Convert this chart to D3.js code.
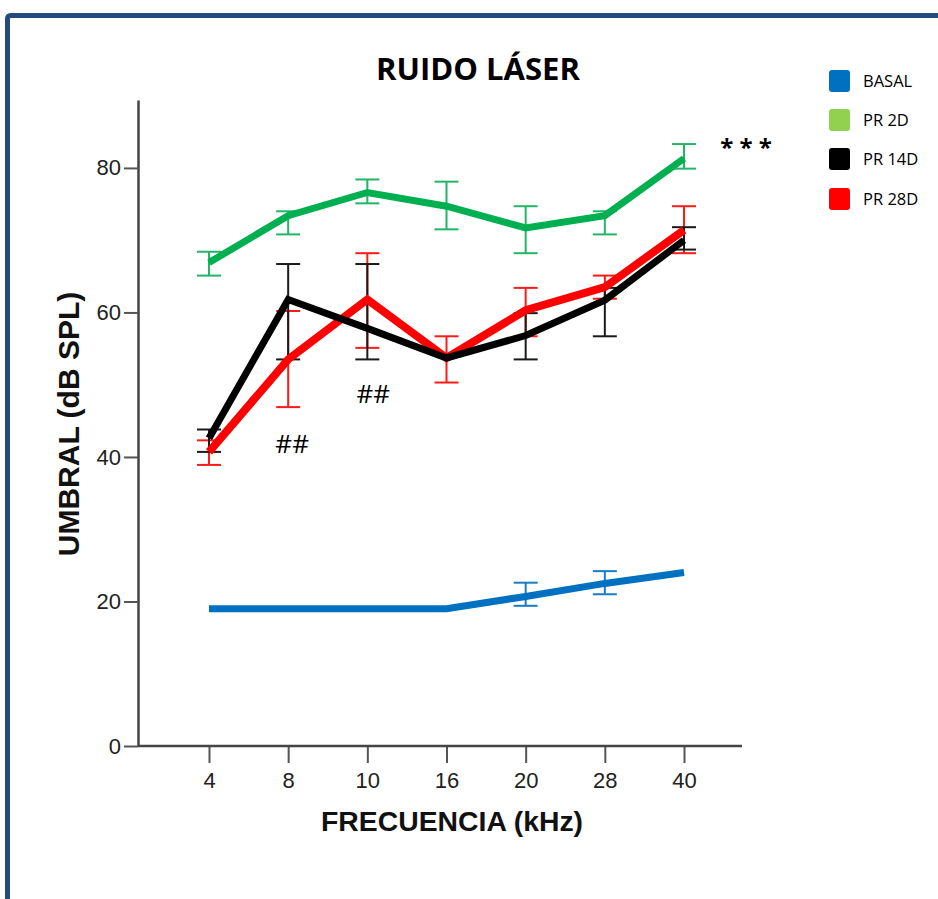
<!DOCTYPE html>
<html>
<head>
<meta charset="utf-8">
<script src="https://cdn.jsdelivr.net/npm/d3@7"></script>
<style>
  html, body { margin: 0; padding: 0; background: #fff; }
  svg { display: block; }
</style>
</head>
<body>
<script>
// Frequencies tested (kHz) and threshold tick values
const frequencies = ["4", "8", "10", "16", "20", "28", "40"];
const yTicks = [0, 20, 40, 60, 80];

// Mean thresholds (dB SPL) per group
const basal = [19.0, 19.0, 19.0, 19.0, 20.7, 22.5, 24.0];
const pr2d  = [66.9, 73.4, 76.6, 74.7, 71.7, 73.4, 81.3];
const pr14d = [42.6, 61.8, 57.8, 53.7, 56.8, 61.7, 70.0];
const pr28d = [40.7, 53.5, 61.8, 53.7, 60.3, 63.5, 71.4];

// Error bar limits (upper / lower); null where no bar is drawn
const basalHi = [null, null, null, null, 22.6, 24.2, null];
const basalLo = [null, null, null, null, 19.4, 21.0, null];
const pr2dHi  = [68.4, 74.0, 78.4, 78.1, 74.7, 74.0, 83.3];
const pr2dLo  = [65.1, 70.8, 75.1, 71.5, 68.2, 70.8, 79.9];
const pr14dHi = [43.8, 66.7, 66.7, null, 59.9, 63.4, 71.8];
const pr14dLo = [40.7, 53.5, 53.5, null, 53.5, 56.7, 68.7];
const pr28dHi = [42.3, 60.2, 68.2, 56.7, 63.4, 65.1, 74.7];
const pr28dLo = [38.9, 46.9, 55.1, 50.3, 56.7, 61.9, 68.2];

const legendLabels = ["BASAL", "PR 2D", "PR 14D", "PR 28D"];
const legendColors = ["#0070c0", "#92d050", "#000000", "#ff0000"];

const W = 938, H = 899;
const svg = d3.select("body").append("svg").attr("width", W).attr("height", H);

// Panel frame
svg.append("rect")
  .attr("x", 7.5).attr("y", 15.5)
  .attr("width", W + 20).attr("height", H + 20)
  .attr("rx", 3)
  .attr("fill", "none").attr("stroke", "#234b7d").attr("stroke-width", 5);

const x = d3.scalePoint().domain(frequencies).range([209, 684]);
const y = d3.scaleLinear().domain([0, 89.4]).range([746, 100]);
const axisLeftX = 138, axisRightX = 742;

// Y axis
const gy = svg.append("g").attr("transform", `translate(${axisLeftX},0)`)
  .call(d3.axisLeft(y).tickValues(yTicks).tickSize(14).tickSizeOuter(0).tickPadding(3));
gy.select(".domain").attr("stroke", "#444").attr("stroke-width", 2.5);
gy.selectAll(".tick line").attr("stroke", "#555").attr("stroke-width", 2);
gy.selectAll(".tick text").attr("font-family", "Liberation Sans, Arial, sans-serif")
  .attr("font-size", 22).attr("fill", "#222");

// X axis
const gx = svg.append("g").attr("transform", `translate(0,${y(0)})`)
  .call(d3.axisBottom(x).tickSize(17).tickSizeOuter(0).tickPadding(9));
gx.select(".domain").remove();
gx.append("line").attr("x1", axisLeftX).attr("x2", axisRightX)
  .attr("stroke", "#444").attr("stroke-width", 2.5);
gx.selectAll(".tick line").attr("stroke", "#555").attr("stroke-width", 2);
gx.selectAll(".tick text").attr("font-family", "Liberation Sans, Arial, sans-serif")
  .attr("font-size", 22).attr("fill", "#222");

// Titles
svg.append("text").attr("x", 478).attr("y", 80).attr("text-anchor", "middle")
  .attr("font-family", "Open Sans, Lato, sans-serif").attr("font-weight", "bold")
  .attr("font-size", 30).attr("fill", "#000")
  .attr("textLength", 204).attr("lengthAdjust", "spacingAndGlyphs")
  .text("RUIDO LÁSER");

svg.append("text").attr("x", 452).attr("y", 831).attr("text-anchor", "middle")
  .attr("font-family", "Liberation Sans, Arial, sans-serif").attr("font-weight", "bold")
  .attr("font-size", 27).attr("fill", "#111")
  .attr("textLength", 262).attr("lengthAdjust", "spacingAndGlyphs")
  .text("FRECUENCIA (kHz)");

svg.append("text").attr("transform", "translate(79,424) rotate(-90)")
  .attr("text-anchor", "middle")
  .attr("font-family", "Liberation Sans, Arial, sans-serif").attr("font-weight", "bold")
  .attr("font-size", 30).attr("fill", "#111").text("UMBRAL (dB SPL)");

// Series definitions
const series = [
  { name: "BASAL", mean: basal, hi: basalHi, lo: basalLo, line: "#0070c0", err: "#1a7cc6", w: 7 },
  { name: "PR 2D", mean: pr2d, hi: pr2dHi, lo: pr2dLo, line: "#00b050", err: "#22b564", w: 7 },
  { name: "PR 28D", mean: pr28d, hi: pr28dHi, lo: pr28dLo, line: "#ff0000", err: "#ff1a1a", w: 8 },
  { name: "PR 14D", mean: pr14d, hi: pr14dHi, lo: pr14dLo, line: "#000000", err: "#1a1a1a", w: 7 }
];

const capHalf = 12;

// Error bars
series.forEach(s => {
  const bars = frequencies.map((f, i) => ({ f, hi: s.hi[i], lo: s.lo[i] }))
    .filter(d => d.hi != null && d.lo != null);
  const g = svg.append("g").attr("stroke", s.err).attr("stroke-width", 2).attr("fill", "none");
  g.selectAll("line.v").data(bars).join("line").attr("class", "v")
    .attr("x1", d => x(d.f)).attr("x2", d => x(d.f))
    .attr("y1", d => y(d.hi)).attr("y2", d => y(d.lo));
  g.selectAll("line.t").data(bars).join("line").attr("class", "t")
    .attr("x1", d => x(d.f) - capHalf).attr("x2", d => x(d.f) + capHalf)
    .attr("y1", d => y(d.hi)).attr("y2", d => y(d.hi));
  g.selectAll("line.b").data(bars).join("line").attr("class", "b")
    .attr("x1", d => x(d.f) - capHalf).attr("x2", d => x(d.f) + capHalf)
    .attr("y1", d => y(d.lo)).attr("y2", d => y(d.lo));
});

// Mean lines
const lineGen = d3.line().x(d => x(d.f)).y(d => y(d.v));
series.forEach(s => {
  svg.append("path")
    .datum(frequencies.map((f, i) => ({ f, v: s.mean[i] })))
    .attr("d", lineGen)
    .attr("fill", "none").attr("stroke", s.line).attr("stroke-width", s.w)
    .attr("stroke-linejoin", "miter").attr("stroke-linecap", "butt");
});

// Significance markers
const markFont = "Open Sans, Lato, sans-serif";
svg.append("text").attr("x", 746).attr("y", 156).attr("text-anchor", "middle")
  .attr("font-family", markFont).attr("font-weight", "bold").attr("font-size", 24)
  .attr("fill", "#000").text("* * *");
svg.append("text").attr("x", x("8") + 4).attr("y", 453).attr("text-anchor", "middle")
  .attr("font-family", markFont).attr("font-size", 26).attr("fill", "#000").text("##");
svg.append("text").attr("x", x("10") + 6).attr("y", 403).attr("text-anchor", "middle")
  .attr("font-family", markFont).attr("font-size", 26).attr("fill", "#000").text("##");

// Legend
const legend = svg.append("g").attr("transform", "translate(829,70)");
const legendRowY = [0, 39, 78, 118];
legendLabels.forEach((lab, i) => {
  const row = legend.append("g").attr("transform", `translate(0,${legendRowY[i]})`);
  row.append("rect").attr("width", 21).attr("height", 22).attr("rx", 3)
    .attr("fill", legendColors[i]);
  row.append("text").attr("x", 34).attr("y", 17)
    .attr("font-family", "Open Sans, Lato, sans-serif").attr("font-size", 16.5)
    .attr("fill", "#000").text(lab);
});
</script>
</body>
</html>
